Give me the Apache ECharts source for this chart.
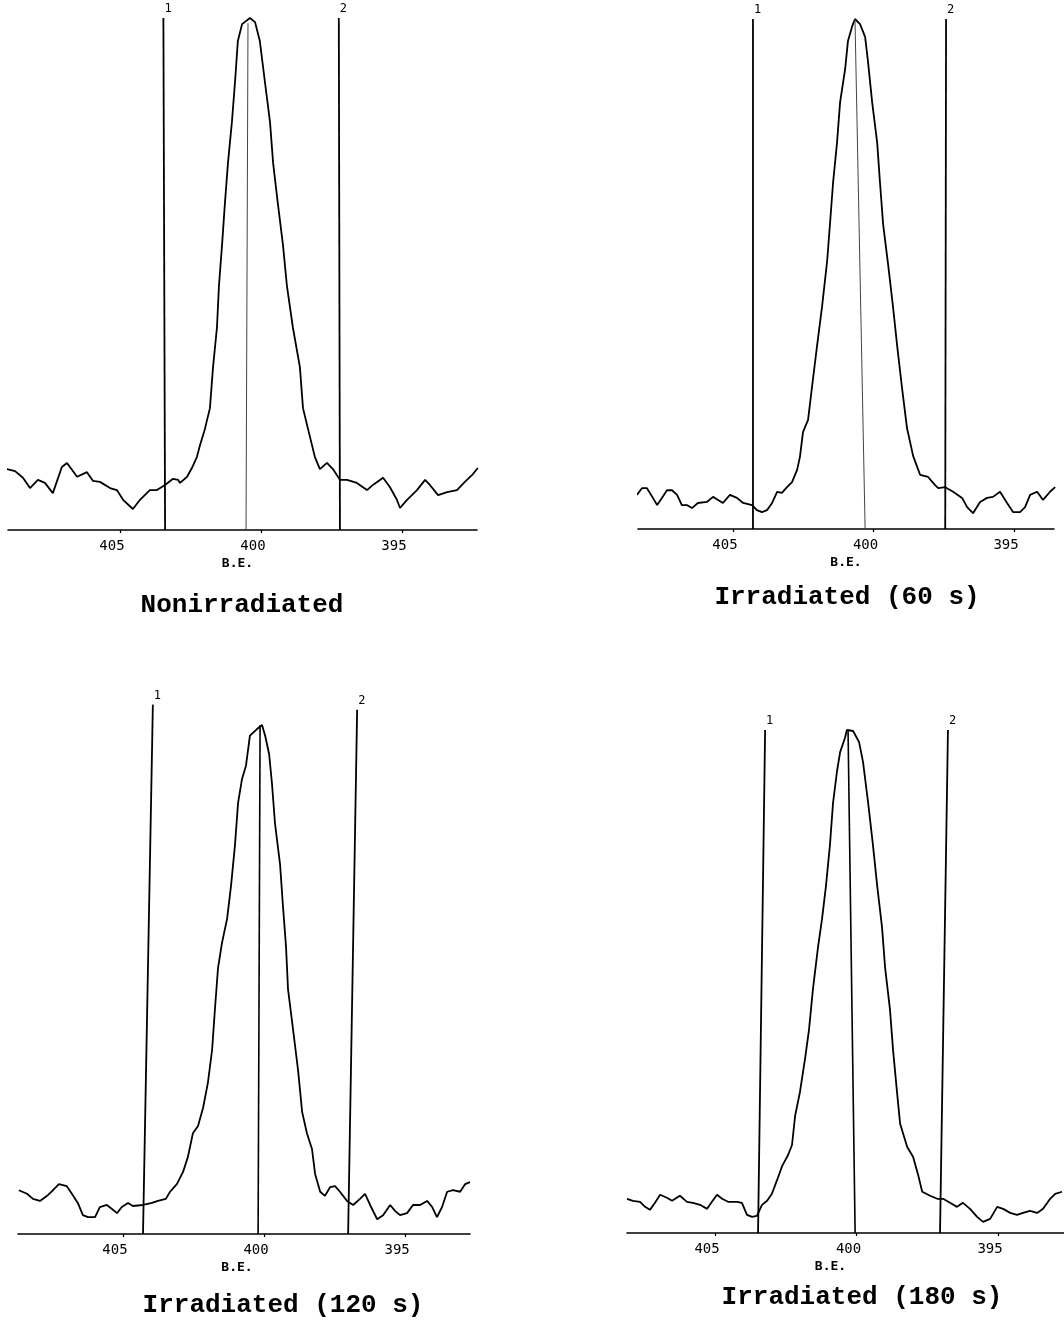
<!DOCTYPE html>
<html>
<head>
<meta charset="utf-8">
<title>XPS N 1s</title>
<script src="https://cdn.jsdelivr.net/npm/echarts@6/dist/echarts.min.js"></script>
<style>
  html, body { margin: 0; padding: 0; background: #fff; }
  #chart { width: 1064px; height: 1325px; }
</style>
</head>
<body>
<div id="chart"></div>
<script>
  // binding energy (eV) vs intensity (a.u., peak = 100)
  var nonirradiated = [
    [409.01, 11.9], [408.72, 11.5], [408.44, 10.2], [408.19, 8.2], [407.91, 9.8], [407.66, 9.2],
    [407.38, 7.2], [407.06, 12.3], [406.88, 13.1], [406.52, 10.4], [406.17, 11.3], [405.96, 9.6],
    [405.71, 9.4], [405.35, 8.2], [405.11, 7.8], [404.89, 5.9], [404.54, 4.1], [404.29, 5.9],
    [403.94, 7.8], [403.69, 7.8], [403.40, 8.8], [403.12, 10.0], [402.94, 9.8], [402.87, 9.2],
    [402.62, 10.4], [402.45, 12.1], [402.27, 14.3], [402.16, 16.6], [401.99, 19.7], [401.81, 23.8],
    [401.70, 31.8], [401.56, 39.6], [401.49, 47.7], [401.38, 55.7], [401.28, 63.7], [401.17, 71.7],
    [401.03, 79.7], [400.92, 87.5], [400.82, 95.5], [400.67, 98.8], [400.39, 100], [400.21, 99.2],
    [400.04, 95.5], [399.86, 87.5], [399.68, 79.7], [399.57, 71.7], [399.40, 63.7], [399.22, 55.7],
    [399.08, 47.7], [398.87, 39.6], [398.62, 31.8], [398.51, 23.8], [398.33, 19.7], [398.09, 14.3],
    [397.91, 11.9], [397.66, 13.1], [397.45, 11.9], [397.20, 9.8], [396.95, 9.8], [396.60, 9.2],
    [396.24, 7.8], [396.03, 8.8], [395.67, 10.2], [395.43, 8.4], [395.18, 5.9], [395.07, 4.3],
    [394.82, 5.9], [394.47, 7.8], [394.18, 9.8], [394.01, 8.8], [393.72, 6.8], [393.40, 7.4],
    [393.05, 7.8], [392.77, 9.4], [392.52, 10.7], [392.31, 12.1]
  ];
  var irr60 = [
    [408.42, 6.7], [408.24, 8.0], [408.06, 8.0], [407.85, 6.1], [407.70, 4.7], [407.53, 6.1],
    [407.35, 7.6], [407.17, 7.6], [406.99, 6.7], [406.82, 4.7], [406.64, 4.7], [406.46, 4.1],
    [406.25, 5.1], [405.93, 5.3], [405.71, 6.3], [405.53, 5.7], [405.36, 5.1], [405.11, 6.7],
    [404.86, 6.1], [404.64, 5.1], [404.32, 4.7], [404.15, 3.7], [403.97, 3.3], [403.79, 3.7],
    [403.61, 5.1], [403.43, 7.3], [403.26, 7.1], [403.08, 8.2], [402.90, 9.2], [402.72, 11.6],
    [402.62, 14.1], [402.51, 19.0], [402.33, 21.4], [402.19, 27.8], [402.01, 35.9], [401.83, 43.7],
    [401.65, 52.6], [401.55, 59.8], [401.44, 67.9], [401.30, 75.7], [401.19, 83.7], [401.01, 90.2],
    [400.91, 95.7], [400.76, 98.6], [400.66, 100], [400.48, 99.0], [400.30, 96.5], [400.20, 91.8],
    [400.05, 83.7], [399.87, 75.7], [399.77, 67.9], [399.66, 59.8], [399.48, 51.8], [399.31, 43.7],
    [399.16, 35.9], [398.99, 27.8], [398.81, 19.8], [398.59, 14.3], [398.34, 10.6], [398.06, 10.2],
    [397.81, 8.6], [397.70, 8.0], [397.45, 8.2], [397.17, 7.3], [396.85, 6.1], [396.67, 4.3],
    [396.46, 3.1], [396.21, 5.3], [395.96, 6.1], [395.75, 6.3], [395.50, 7.3], [395.25, 5.1],
    [395.03, 3.3], [394.79, 3.3], [394.61, 4.3], [394.43, 6.7], [394.18, 7.3], [393.97, 5.7],
    [393.72, 7.3], [393.54, 8.2]
  ];
  var irr120 = [
    [408.69, 8.6], [408.40, 7.9], [408.19, 6.9], [407.94, 6.5], [407.69, 7.5], [407.48, 8.6],
    [407.27, 9.8], [406.99, 9.4], [406.81, 7.9], [406.60, 6.1], [406.42, 3.7], [406.24, 3.3],
    [405.99, 3.3], [405.82, 5.3], [405.57, 5.7], [405.39, 4.9], [405.21, 4.1], [405.04, 5.3],
    [404.82, 6.1], [404.65, 5.5], [404.29, 5.7], [403.97, 6.1], [403.76, 6.5], [403.48, 6.9],
    [403.33, 8.3], [403.09, 9.8], [402.87, 12.2], [402.70, 15.1], [402.52, 19.8], [402.34, 21.2],
    [402.16, 24.8], [401.99, 29.7], [401.84, 36.2], [401.74, 44.2], [401.63, 52.3], [401.49, 57.2],
    [401.31, 61.9], [401.17, 68.4], [401.03, 76.4], [400.92, 84.7], [400.78, 89.4], [400.64, 92.0],
    [400.50, 97.9], [400.25, 99.2], [400.07, 100], [399.96, 97.9], [399.82, 94.3], [399.72, 88.6],
    [399.61, 80.6], [399.43, 72.5], [399.33, 64.5], [399.22, 56.4], [399.15, 48.1], [398.97, 40.1],
    [398.79, 32.0], [398.65, 24.0], [398.48, 19.8], [398.30, 16.7], [398.19, 11.8], [398.01, 8.3],
    [397.84, 7.5], [397.66, 9.2], [397.48, 9.4], [397.31, 8.3], [397.06, 6.5], [396.84, 5.7],
    [396.60, 6.9], [396.42, 7.9], [396.24, 5.7], [395.99, 2.9], [395.78, 3.7], [395.53, 5.7],
    [395.35, 4.5], [395.18, 3.7], [394.93, 4.1], [394.72, 5.7], [394.47, 5.7], [394.22, 6.5],
    [394.04, 5.3], [393.87, 3.3], [393.69, 5.3], [393.51, 8.3], [393.30, 8.6], [393.05, 8.3],
    [392.87, 9.8], [392.70, 10.2]
  ];
  var irr180 = [
    [408.11, 6.8], [407.90, 6.4], [407.65, 6.2], [407.47, 5.2], [407.30, 4.6], [407.12, 6.0],
    [406.94, 7.6], [406.70, 7.0], [406.52, 6.4], [406.24, 7.4], [405.99, 6.2], [405.78, 6.0],
    [405.53, 5.6], [405.28, 4.8], [405.11, 6.2], [404.93, 7.6], [404.75, 6.8], [404.54, 6.2],
    [404.22, 6.2], [404.05, 6.0], [403.87, 3.6], [403.69, 3.2], [403.52, 3.4], [403.34, 5.6],
    [403.16, 6.4], [402.99, 7.8], [402.81, 10.5], [402.63, 13.3], [402.42, 15.5], [402.28, 17.5],
    [402.17, 23.3], [402.00, 28.0], [401.82, 34.6], [401.68, 40.4], [401.54, 48.5], [401.36, 56.9],
    [401.22, 62.4], [401.08, 69.0], [400.94, 77.1], [400.83, 85.5], [400.69, 91.8], [400.58, 95.6],
    [400.41, 98.4], [400.34, 100], [400.12, 99.8], [399.91, 97.6], [399.77, 93.6], [399.59, 85.5],
    [399.42, 77.1], [399.27, 69.0], [399.10, 60.8], [398.99, 52.7], [398.82, 44.5], [398.71, 36.4],
    [398.57, 28.0], [398.46, 21.7], [398.21, 17.1], [398.00, 15.1], [397.83, 11.7], [397.68, 8.2],
    [397.40, 7.4], [397.15, 6.8], [396.94, 6.8], [396.70, 6.0], [396.45, 5.2], [396.24, 6.0],
    [395.99, 4.8], [395.74, 3.2], [395.53, 2.2], [395.28, 2.8], [395.03, 5.2], [394.82, 4.8],
    [394.57, 4.0], [394.33, 3.6], [394.12, 4.0], [393.87, 4.4], [393.62, 4.0], [393.41, 4.8],
    [393.16, 6.8], [392.98, 7.8], [392.74, 8.2]
  ];

  // integration limits 1 and 2, and the peak marker: [BE at base, BE at top, height at top]
  var limits1 = [[403.40, 403.46, 100], [404.29, 404.29, 100], [404.29, 403.94, 104], [403.48, 403.23, 100]];
  var limits2 = [[397.20, 397.24, 100], [397.45, 397.42, 100], [397.02, 396.70, 103], [397.05, 396.77, 100]];
  var peakLine = [[400.53, 400.46, 99], [400.30, 400.66, 100], [400.21, 400.14, 100], [400.05, 400.30, 100]];

  var ranges = [[392.34, 408.97], [393.58, 408.38], [392.70, 408.72], [392.67, 408.11]];
  var tickValues = [405, 400, 395];
  var titles = ['Nonirradiated', 'Irradiated (60 s)', 'Irradiated (120 s)', 'Irradiated (180 s)'];
  var spectra = [nonirradiated, irr60, irr120, irr180];

  var grids = [
    {left: 8, top: 18, width: 469, height: 512},
    {left: 638, top: 19, width: 416, height: 510},
    {left: 18, top: 725, width: 452, height: 509},
    {left: 627, top: 730, width: 437, height: 503}
  ];
  var nameShift = [10, 0, 14, 30];
  var titlePos = [[242, 605], [847, 597], [283, 1305], [862, 1297]];

  var myChart = echarts.init(document.getElementById('chart'));

  var xAxes = [], yAxes = [], series = [];
  for (var i = 0; i < 4; i++) {
    xAxes.push({
      gridIndex: i, type: 'value', inverse: true,
      min: ranges[i][0], max: ranges[i][1],
      axisLine: {show: true, onZero: false, lineStyle: {color: '#000', width: 1.6}},
      axisTick: {show: true, customValues: tickValues, length: 3, lineStyle: {color: '#000', width: 1.2}},
      axisLabel: {customValues: tickValues, color: '#000', fontFamily: 'DejaVu Sans Mono',
        fontSize: 14, margin: 9, padding: [0, 16, 0, 0]},
      splitLine: {show: false},
      name: 'B.E.', nameLocation: 'middle', nameGap: 27,
      nameTextStyle: {color: '#000', fontFamily: 'DejaVu Sans Mono', fontSize: 13, fontWeight: 'bold',
        padding: [0, nameShift[i], 0, 0]}
    });
    yAxes.push({gridIndex: i, type: 'value', min: 0, max: 100, show: false});

    series.push({
      type: 'line', xAxisIndex: i, yAxisIndex: i, data: spectra[i],
      showSymbol: false, clip: false, lineStyle: {color: '#000', width: 1.8}
    });
    [limits1[i], limits2[i]].forEach(function (l) {
      series.push({
        type: 'line', xAxisIndex: i, yAxisIndex: i, data: [[l[0], 0], [l[1], l[2]]],
        showSymbol: false, clip: false, lineStyle: {color: '#000', width: 1.8}
      });
    });
    var p = peakLine[i];
    series.push({
      type: 'line', xAxisIndex: i, yAxisIndex: i, data: [[p[0], 0], [p[1], p[2]]],
      showSymbol: false, clip: false,
      lineStyle: {color: i < 2 ? '#444' : '#000', width: i < 2 ? 1 : 1.6}
    });
  }

  myChart.setOption({
    animation: false,
    backgroundColor: '#fff',
    grid: grids,
    xAxis: xAxes,
    yAxis: yAxes,
    series: series
  });

  // limit numbers at the top of the lines and the panel captions
  var graphics = [];
  for (var j = 0; j < 4; j++) {
    [[limits1[j], '1'], [limits2[j], '2']].forEach(function (item) {
      var pt = myChart.convertToPixel({gridIndex: j}, [item[0][1], item[0][2]]);
      graphics.push({
        type: 'text', x: pt[0] + 1, y: pt[1] - 3,
        style: {text: item[1], fill: '#000', font: '12px "DejaVu Sans Mono"', textAlign: 'left', textVerticalAlign: 'bottom'}
      });
    });
    graphics.push({
      type: 'text', x: titlePos[j][0], y: titlePos[j][1],
      style: {text: titles[j], fill: '#000', font: 'bold 26px "Liberation Mono"', textAlign: 'center', textVerticalAlign: 'middle'}
    });
  }
  myChart.setOption({graphic: graphics});

  window.onresize = function () {
    myChart.resize();
  };
</script>
</body>
</html>
